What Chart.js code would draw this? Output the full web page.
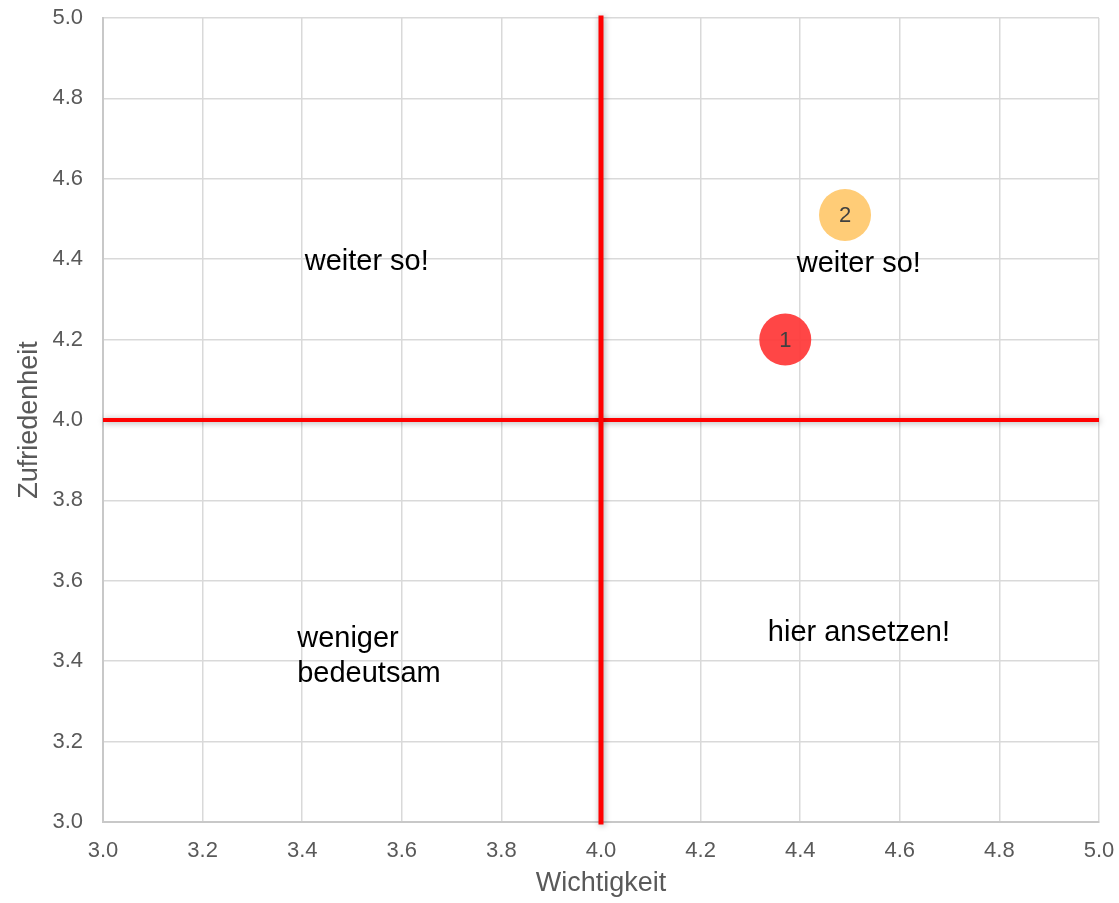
<!DOCTYPE html>
<html>
<head>
<meta charset="utf-8">
<script src="https://cdn.jsdelivr.net/npm/chart.js@4"></script>
<style>
  html, body { margin: 0; padding: 0; background: #fff; }
  #wrap { width: 1119px; height: 903px; }
</style>
</head>
<body>
<div id="wrap"><canvas id="grafico"></canvas></div>
<script>
// Daten aus der Abbildung
const punktNamen = ["1", "2"];
const wichtigkeit = [4.37, 4.49];
const zufriedenheit = [4.2, 4.51];
const punktFarben = ["rgba(255, 60, 60, 0.95)", "rgba(255, 204, 119, 1)"];

const achsenMin = 3.0;
const achsenMax = 5.0;
const schwelle = 4.0;

// Quadranten-Beschriftungen (Datenkoordinaten, linker Rand / Mitte der ersten Zeile)
const beschriftungText = [["weiter so!"], ["weiter so!"], ["weniger", "bedeutsam"], ["hier ansetzen!"]];
const beschriftungX = [3.405, 4.393, 3.39, 4.335];
const beschriftungY = [4.393, 4.388, 3.455, 3.47];

const schrift = "'Liberation Sans', Arial, sans-serif";

// zeichnet die Texte in den Quadranten und die Nummern in den Punkten
const textPlugin = {
  id: "textPlugin",
  afterDatasetsDraw(chart) {
    const c = chart.ctx;
    const sx = chart.scales.x, sy = chart.scales.y;
    c.save();
    c.fillStyle = "#000";
    c.font = "29px " + schrift;
    c.textAlign = "left";
    c.textBaseline = "middle";
    beschriftungText.forEach((zeilen, i) => {
      const px = sx.getPixelForValue(beschriftungX[i]);
      const py = sy.getPixelForValue(beschriftungY[i]);
      zeilen.forEach((z, k) => c.fillText(z, px, py + k * 35));
    });
    const meta = chart.getDatasetMeta(0);
    c.fillStyle = "#404040";
    c.font = "22px " + schrift;
    c.textAlign = "center";
    meta.data.forEach((pt, i) => c.fillText(punktNamen[i], pt.x, pt.y + 1));
    c.restore();
  }
};

// Schatten für die roten Linien
const schattenPlugin = {
  id: "schattenPlugin",
  beforeDatasetDraw(chart, args) {
    if (args.index > 0) {
      const c = chart.ctx;
      c.save();
      c.shadowColor = "rgba(0,0,0,0.35)";
      c.shadowBlur = 6;
      c.shadowOffsetX = 1;
      c.shadowOffsetY = 1;
    }
  },
  afterDatasetDraw(chart, args) {
    if (args.index > 0) chart.ctx.restore();
  }
};

const ctx = document.getElementById("grafico").getContext("2d");

new Chart(ctx, {
  type: "scatter",
  data: {
    datasets: [
      {
        label: "Punkte",
        data: wichtigkeit.map((w, i) => ({ x: w, y: zufriedenheit[i] })),
        backgroundColor: punktFarben,
        borderWidth: 0,
        pointRadius: 26,
        order: 0
      },
      {
        label: "senkrecht",
        data: [{ x: schwelle, y: achsenMin }, { x: schwelle, y: achsenMax }],
        showLine: true,
        borderColor: "#ff0000",
        borderWidth: 5,
        borderCapStyle: "square",
        pointRadius: 0,
        clip: false,
        order: 1
      },
      {
        label: "waagerecht",
        data: [{ x: achsenMin, y: schwelle }, { x: achsenMax, y: schwelle }],
        showLine: true,
        borderColor: "#ff0000",
        borderWidth: 4,
        pointRadius: 0,
        clip: false,
        order: 1
      }
    ]
  },
  options: {
    responsive: true,
    maintainAspectRatio: false,
    animation: false,
    layout: { autoPadding: false, padding: { top: 18, right: 20, left: 13, bottom: 3 } },
    plugins: {
      legend: { display: false },
      tooltip: { enabled: false }
    },
    scales: {
      x: {
        min: achsenMin,
        max: achsenMax,
        afterFit: (s) => { s.height = 78; },
        grid: { color: "#d9d9d9", lineWidth: 1.5, drawTicks: true, tickLength: 16, tickColor: "rgba(0,0,0,0)" },
        border: { color: "#c8c8c8", width: 2 },
        ticks: {
          stepSize: 0.2,
          padding: 0,
          color: "#595959",
          font: { family: schrift, size: 22 },
          callback: (v) => v.toFixed(1)
        },
        title: {
          display: true,
          text: "Wichtigkeit",
          color: "#595959",
          font: { family: schrift, size: 27 },
          padding: 0
        }
      },
      y: {
        min: achsenMin,
        max: achsenMax,
        afterFit: (s) => { s.width = 90; },
        grid: { color: "#d9d9d9", lineWidth: 1.5, drawTicks: true, tickLength: 20, tickColor: "rgba(0,0,0,0)" },
        border: { color: "#c8c8c8", width: 2 },
        ticks: {
          stepSize: 0.2,
          padding: 0,
          color: "#595959",
          font: { family: schrift, size: 22 },
          callback: (v) => v.toFixed(1)
        },
        title: {
          display: true,
          text: "Zufriedenheit",
          color: "#595959",
          font: { family: schrift, size: 27 },
          padding: 0
        }
      }
    }
  },
  plugins: [schattenPlugin, textPlugin]
});
</script>
</body>
</html>
